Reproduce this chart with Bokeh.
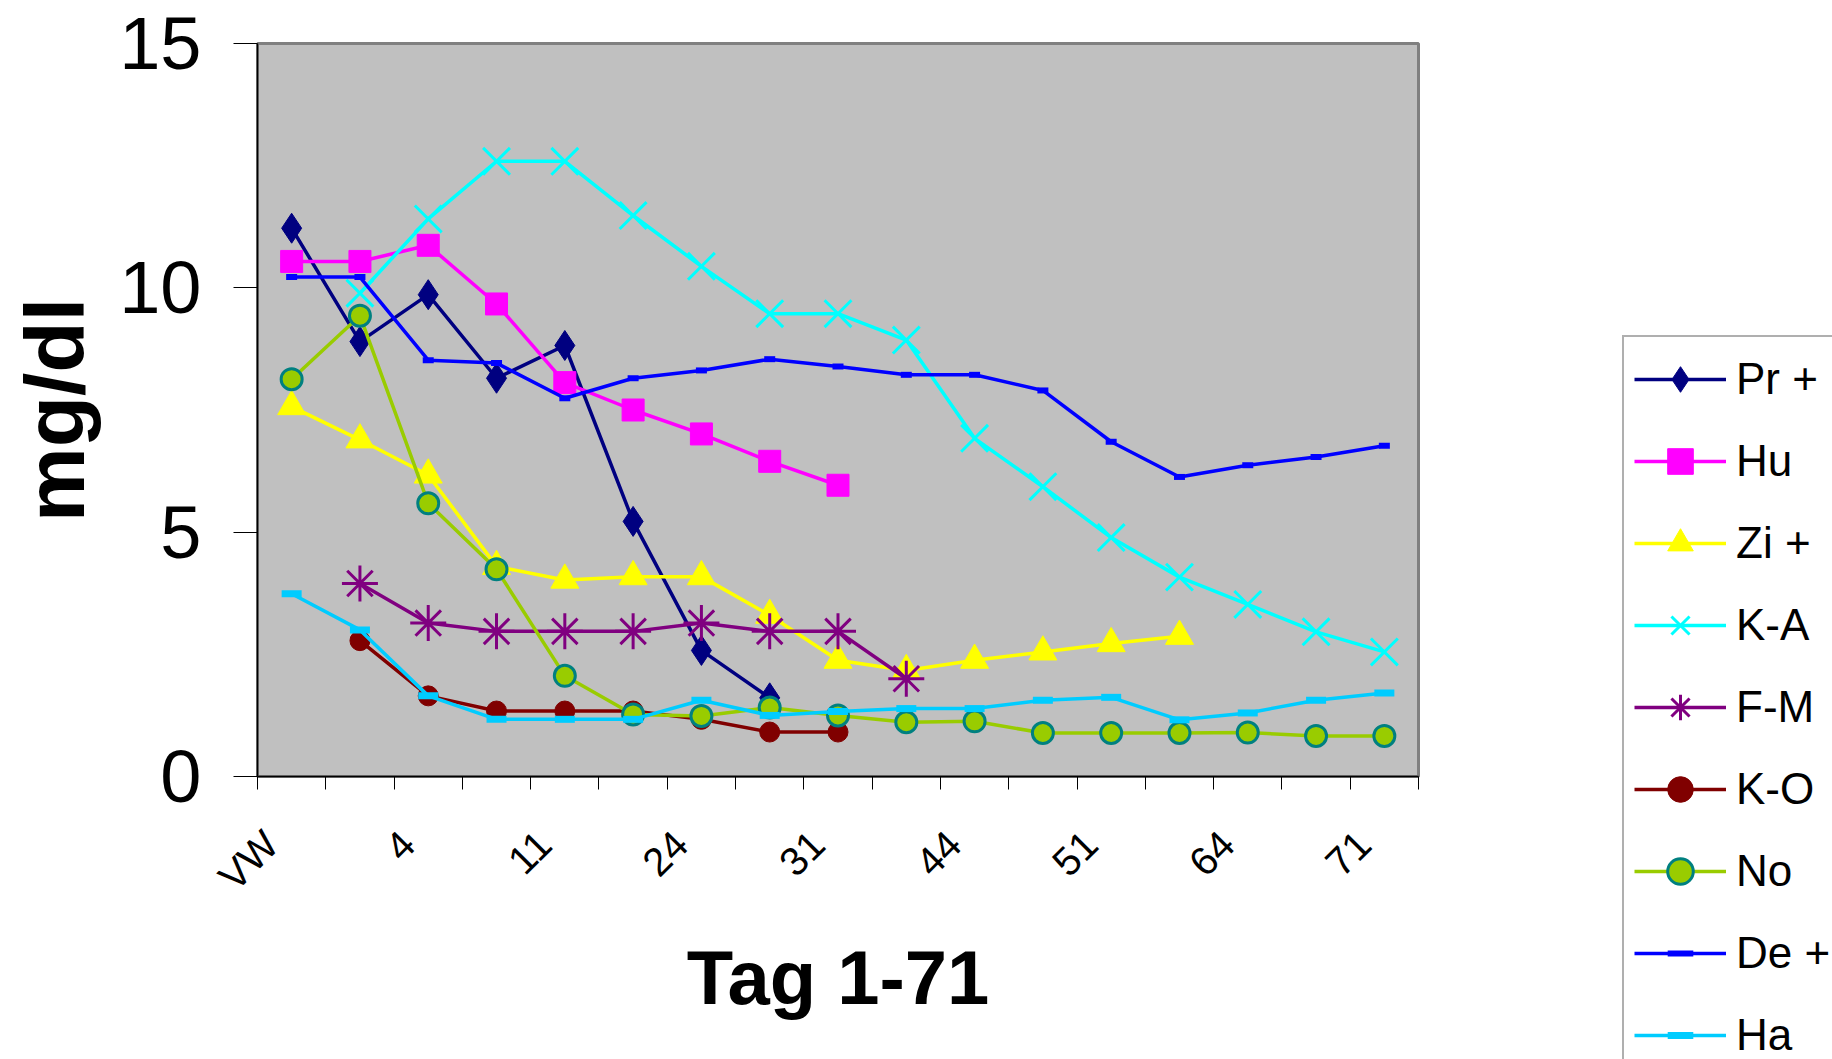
import math
from bokeh.plotting import figure
from bokeh.models import FixedTicker, Range1d, Legend, LegendItem
from bokeh.embed import file_html
from bokeh.resources import INLINE

# ---- data (category index 0..16, labels shown on every second category) ----
tick_positions = [0, 2, 4, 6, 8, 10, 12, 14, 16]
tick_labels = ["VW", "4", "11", "24", "31", "44", "51", "64", "71"]
n_categories = 17

pr = [11.22, 8.9, 9.86, 8.15, 8.82, 5.22, 2.58, 1.61]
hu = [10.54, 10.54, 10.87, 9.67, 8.06, 7.5, 7.01, 6.45, 5.96]
zi = [7.57, 6.89, 6.17, 4.3, 4.02, 4.09, 4.09, 3.30, 2.38, 2.17, 2.38, 2.55, 2.72, 2.87]
ka = [9.89, 11.41, 12.59, 12.59, 11.48, 10.44, 9.47, 9.47, 8.93, 6.92, 5.93, 4.89, 4.08, 3.52, 2.96, 2.55]
fm = [3.95, 3.14, 2.97, 2.97, 2.97, 3.14, 2.97, 2.97, 2.0]
ko = [2.78, 1.65, 1.34, 1.34, 1.34, 1.17, 0.91, 0.91]
no = [8.13, 9.43, 5.59, 4.24, 2.06, 1.27, 1.24, 1.41, 1.25, 1.11, 1.13, 0.89, 0.89, 0.89, 0.9, 0.83, 0.83]
de = [10.22, 10.22, 8.52, 8.46, 7.74, 8.15, 8.31, 8.54, 8.39, 8.22, 8.22, 7.9, 6.85, 6.13, 6.37, 6.54, 6.77]
ha = [3.74, 3.0, 1.65, 1.17, 1.17, 1.17, 1.56, 1.25, 1.33, 1.39, 1.39, 1.56, 1.62, 1.16, 1.30, 1.56, 1.71]

# series: name, values, first category index, line colour, marker, size, fill, outline, marker line width
series = [
    ("Pr +", pr, 0, "#000080", "diamond", 30, "#000080", "#000080", 1),
    ("Hu", hu, 0, "#FF00FF", "square", 22, "#FF00FF", "#FF00FF", 1),
    ("Zi +", zi, 0, "#FFFF00", "triangle", 28, "#FFFF00", "#FFFF00", 1),
    ("K-A", ka, 1, "#00FFFF", "x", 38, None, "#00FFFF", 3),
    ("F-M", fm, 1, "#800080", "asterisk", 36, None, "#800080", 3),
    ("K-O", ko, 1, "#800000", "circle", 20, "#800000", "#800000", 1),
    ("No", no, 0, "#99CC00", "circle", 21, "#99CC00", "#008080", 3),
    ("De +", de, 0, "#0000FF", "dash", 11, None, "#0000FF", 6),
    ("Ha", ha, 0, "#00CCFF", "dash", 20, None, "#00CCFF", 7),
]

FONT = "Liberation Sans"
LABEL_SHIFT = 0.3  # rotated labels end slightly left of the category centre

# the frame is fixed; the legend panel on the right runs past the window edge, as in the reference
p = figure(frame_width=1161, frame_height=733, output_backend="svg", toolbar_location=None,
           x_range=Range1d(-0.5, n_categories - 0.5), y_range=Range1d(0, 15),
           min_border_left=257, min_border_right=0, min_border_top=43, min_border_bottom=283)

p.background_fill_color = "#C0C0C0"
p.border_fill_color = "white"
p.outline_line_color = "#808080"
p.outline_line_width = 3
p.grid.visible = False

# x axis
shifted = [t - LABEL_SHIFT for t in tick_positions]
xa = p.xaxis[0]
xa.ticker = FixedTicker(ticks=shifted,
                        minor_ticks=[i - 0.5 for i in range(n_categories + 1)])
xa.major_label_overrides = {t: l for t, l in zip(shifted, tick_labels)}
xa.major_tick_out = 0
xa.major_tick_in = 0
xa.major_tick_line_color = None
xa.minor_tick_out = 13
xa.minor_tick_in = 0
xa.minor_tick_line_color = "black"
xa.minor_tick_line_width = 1
xa.major_label_orientation = math.pi / 4
xa.major_label_text_font = FONT
xa.major_label_text_font_size = "40px"
xa.major_label_text_color = "black"
xa.major_label_standoff = 48
xa.axis_line_color = "black"
xa.axis_line_width = 1.5
xa.axis_label = "Tag 1-71"
xa.axis_label_text_font = FONT
xa.axis_label_text_font_style = "bold"
xa.axis_label_text_font_size = "76px"
xa.axis_label_text_color = "black"
xa.axis_label_standoff = 18

# y axis
ya = p.yaxis[0]
ya.ticker = FixedTicker(ticks=[0, 5, 10, 15])
ya.major_tick_out = 24
ya.major_tick_in = 0
ya.major_tick_line_color = "black"
ya.minor_tick_line_color = None
ya.major_label_text_font = FONT
ya.major_label_text_font_size = "74px"
ya.major_label_text_color = "black"
ya.major_label_standoff = 32
ya.axis_line_color = "black"
ya.axis_line_width = 1.5
ya.axis_label = "mg/dl"
ya.axis_label_text_font = FONT
ya.axis_label_text_font_style = "bold"
ya.axis_label_text_font_size = "84px"
ya.axis_label_text_color = "black"
ya.axis_label_standoff = 14

items = []
for name, vals, start, color, marker, size, fill, outline, mlw in series:
    xs = list(range(start, start + len(vals)))
    lr = p.line(xs, vals, line_color=color, line_width=3.5)
    sr = p.scatter(xs, vals, marker=marker, size=size,
                   fill_color=fill, line_color=outline, line_width=mlw)
    items.append(LegendItem(label=name, renderers=[lr, sr]))

legend = Legend(items=items, location=(204, -303), margin=0, padding=10,
                spacing=18, glyph_width=92, glyph_height=64, label_height=64,
                label_standoff=10, label_text_font=FONT, label_text_font_size="44px",
                label_text_color="black",
                border_line_color="#606060", border_line_width=2,
                background_fill_color="white", background_fill_alpha=1)
p.add_layout(legend, "right")

open("out.html", "w").write(file_html(p, INLINE))
